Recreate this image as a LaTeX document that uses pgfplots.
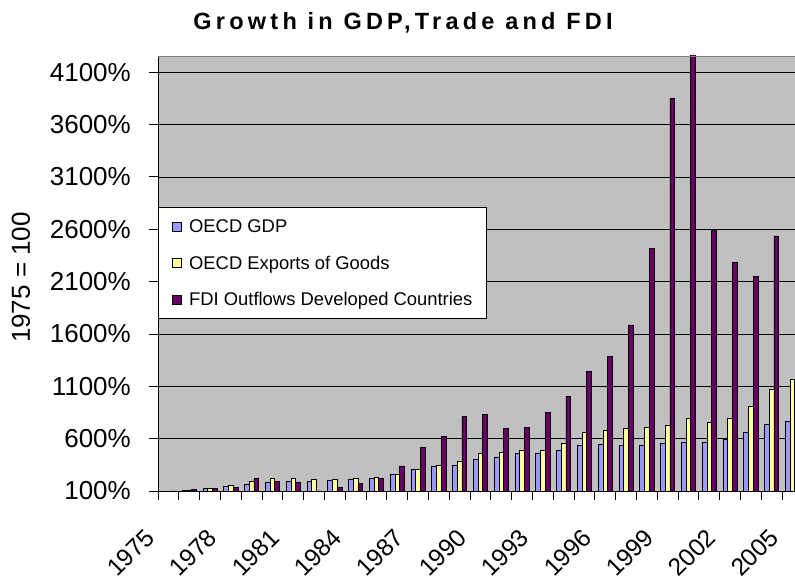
\documentclass[border=0pt]{standalone}
\usepackage{fontspec}
\setmainfont{Liberation Sans}
\newfontfamily\titlefont[LetterSpace=18]{Liberation Sans}
\usepackage{pgfplots}
\pgfplotsset{compat=1.18}
\usepackage{pgfplotstable}
\definecolor{gdpc}{HTML}{9999FF}
\definecolor{expc}{HTML}{FFFF99}
\definecolor{fdic}{HTML}{660066}
\definecolor{plotbg}{HTML}{C0C0C0}
\definecolor{bordergray}{HTML}{808080}

\pgfplotstableread{
i gdp exp fdi
0 100 100 100
1 104 108 112
2 125 128 122
3 145 157 135
4 167 189 221
5 186 221 189
6 189 221 186
7 189 212 95
8 198 212 135
9 212 221 176
10 221 231 221
11 262 262 339
12 307 307 520
13 339 348 619
14 348 380 812
15 404 458 833
16 425 470 695
17 456 489 705
18 456 489 852
19 489 556 1005
20 533 661 1246
21 542 683 1383
22 533 695 1686
23 533 705 2418
24 556 728 3848
25 565 794 4280
26 565 757 2587
27 589 792 2281
28 661 907 2151
29 735 1070 2536
30 770 1170 nan
}\data

\begin{document}
\begin{tikzpicture}
\useasboundingbox (0,0) rectangle (795pt,586pt);
\begin{axis}[
  at={(158pt,95pt)}, anchor=south west,
  scale only axis, width=644.8pt, height=435pt,
  xmin=-0.5, xmax=30.5, ymin=100, ymax=4255,
  ybar, bar width=4.7pt,
  axis background/.style={fill=plotbg},
  axis x line*=bottom, axis y line*=left,
  axis line style={black, line width=0.9pt},
  tick align=outside,
  major tick length=9pt,
  tick style={black, line width=0.9pt},
  xtick={-0.5,0.5,...,30.5},
  xticklabels={},
  extra x ticks={0,3,...,30},
  extra x tick labels={1975,1978,1981,1984,1987,1990,1993,1996,1999,2002,2005},
  extra x tick style={major tick length=0pt, grid=none},
  ytick={100,600,1100,1600,2100,2600,3100,3600,4100},
  yticklabels={100\%,600\%,1100\%,1600\%,2100\%,2600\%,3100\%,3600\%,4100\%},
  ymajorgrids,
  major grid style={black, line width=0.8pt},
  /pgf/number format/assume math mode=true,
  xticklabel style={font=\fontsize{24.5}{28}\selectfont, inner sep=0pt, anchor=north east, xshift=-24.6pt, yshift=-36pt, rotate=45},
  yticklabel style={font=\fontsize{26}{30}\selectfont, inner sep=0pt, anchor=east, xshift=-18pt},
  ylabel={1975 = 100},
  ylabel style={at={(axis description cs:-0.2125,0.4908)}, anchor=center, rotate=0, font=\fontsize{26}{30}\selectfont, inner sep=0pt},
  title={Growth in GDP,Trade and FDI},
  title style={at={(axis description cs:0.38,1.046)}, anchor=base, font=\titlefont\bfseries\fontsize{23.5}{28}\selectfont, inner sep=0pt},
  legend image code/.code={\draw[#1, draw=black, line width=0.7pt] (0pt,-4.5pt) rectangle (9pt,4.5pt);},
  legend cell align=left,
  legend style={at={(0,0.6529)}, anchor=north west, draw=black, fill=white, line width=0.9pt,
    font=\fontsize{18.4}{21}\selectfont,
    nodes={inner sep=0pt, text height=16.5pt, text depth=3.6pt},
    row sep=16.4pt, inner xsep=14pt, inner ysep=9pt,
    /tikz/every odd column/.append style={column sep=7pt}},
]
\addplot[fill=gdpc, draw=black, line width=0.7pt, bar shift=-4.7pt] table[x=i, y=gdp] {\data};
\addplot[fill=expc, draw=black, line width=0.7pt, bar shift=0pt] table[x=i, y=exp] {\data};
\addplot[fill=fdic, draw=black, line width=0.7pt, bar shift=4.7pt] table[x=i, y=fdi] {\data};
\legend{OECD GDP, OECD Exports of Goods, FDI Outflows Developed Countries}
\draw[bordergray, line width=0.9pt] (rel axis cs:0,1) -- (rel axis cs:1,1);
\end{axis}
\end{tikzpicture}
\end{document}
